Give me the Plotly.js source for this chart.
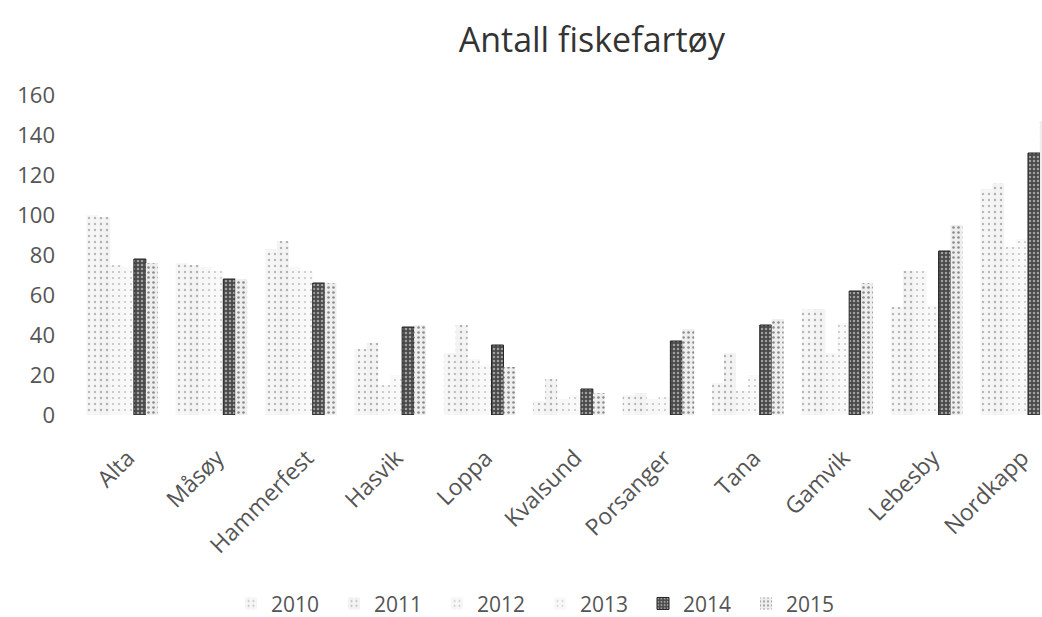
<!DOCTYPE html>
<html>
<head>
<meta charset="utf-8">
<script src="https://cdn.plot.ly/plotly-3.0.1.min.js"></script>
<style>html,body{margin:0;padding:0;background:#fff;overflow:hidden}#chart{width:1042px;height:617px}</style>
</head>
<body>
<div id="chart"></div>
<script>
const categories = ["Alta","Måsøy","Hammerfest","Hasvik","Loppa","Kvalsund","Porsanger","Tana","Gamvik","Lebesby","Nordkapp"];
const years = ["2010","2011","2012","2013","2014","2015"];
const v2010 = [100, 76, 83, 33, 31, 7, 10, 16, 53, 54, 113];
const v2011 = [99, 75, 87, 36, 45, 18, 11, 31, 53, 72, 116];
const v2012 = [75, 74, 74, 15, 28, 8, 8, 12, 31, 72, 84];
const v2013 = [74, 72, 72, 20, 25, 10, 9, 20, 46, 55, 88];
const v2014 = [78, 68, 66, 44, 35, 13, 37, 45, 62, 82, 131];
const v2015 = [76, 68, 66, 45, 24, 11, 43, 48, 66, 95, 147];
const seriesValues = [v2010, v2011, v2012, v2013, v2014, v2015];

const styles = [
  {bg:'#f6f6f6', fg:'#b8b8b8', size:6, sol:0.12},
  {bg:'#f3f3f3', fg:'#b0b0b0', size:6, sol:0.12},
  {bg:'#f7f7f7', fg:'#c0c0c0', size:6, sol:0.1},
  {bg:'#f9f9f9', fg:'#c8c8c8', size:6, sol:0.1},
  {bg:'#4a4a4a', fg:'#a0a0a0', size:4, sol:0.3},
  {bg:'#eeeeee', fg:'#8a8a8a', size:5, sol:0.2}
];

const traces = years.map((y, i) => ({
  type: 'bar',
  name: y,
  x: categories,
  y: seriesValues[i],
  marker: {
    color: styles[i].bg,
    line: {width: i === 4 ? 1 : 0, color: '#222'},
    pattern: {shape: '.', bgcolor: styles[i].bg, fgcolor: styles[i].fg, size: styles[i].size, solidity: styles[i].sol, fillmode: 'replace'}
  },
  hoverinfo: 'x+y+name'
}));

const layout = {
  width: 1042, height: 617,
  margin: {l: 56, r: 0, t: 95, b: 202, autoexpand: false},
  paper_bgcolor: '#fff', plot_bgcolor: '#fff',
  font: {family: 'Open Sans, sans-serif', color: '#555'},
  title: {text: 'Antall fiskefartøy', x: 0.568, xanchor: 'center', y: 0.935, yanchor: 'middle',
          font: {size: 34, color: '#333', family: 'Open Sans, sans-serif'}},
  barmode: 'group', bargap: 0.2, bargroupgap: 0,
  xaxis: {type: 'category', range: [-0.738, 10.29], tickangle: -45, showgrid: false, zeroline: false, showline: false,
          ticks: '', automargin: false, tickfont: {size: 23, color: '#555'}, ticklabelstandoff: 24, ticklabelshift: 6},
  yaxis: {range: [0, 160], dtick: 20, showgrid: false, zeroline: false, showline: false, ticks: '', automargin: false,
          tickfont: {size: 22, color: '#555'}},
  legend: {orientation: 'h', x: 0.1775, xanchor: 'left', y: -0.59, yanchor: 'middle',
           entrywidth: 58, entrywidthmode: 'pixels', font: {size: 21, color: '#555'}, traceorder: 'normal'},
  showlegend: true
};

Plotly.newPlot('chart', traces, layout, {displayModeBar: false, staticPlot: true});
</script>
</body>
</html>
